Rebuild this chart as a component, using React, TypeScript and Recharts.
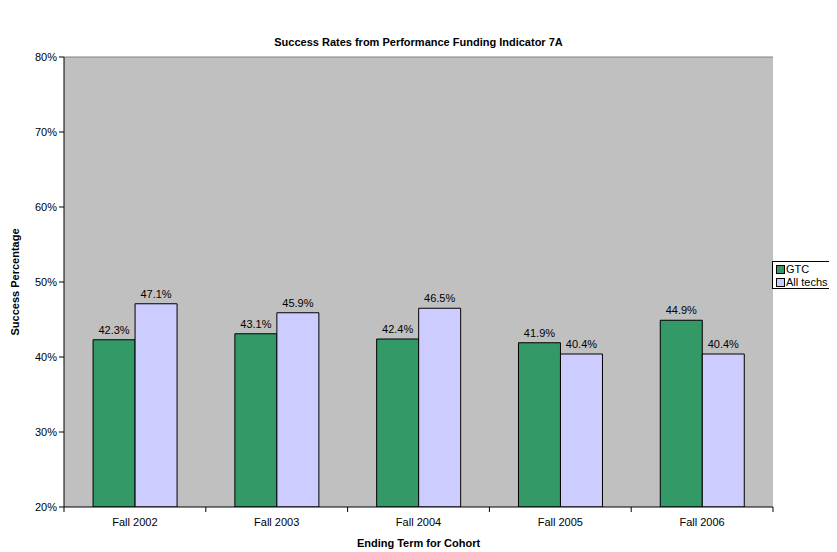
import React from "react";
import { BarChart, Bar, XAxis, YAxis, CartesianGrid, ReferenceLine, LabelList, Label } from "recharts";

const categories = ["Fall 2002", "Fall 2003", "Fall 2004", "Fall 2005", "Fall 2006"];
const gtcValues = [42.3, 43.1, 42.4, 41.9, 44.9];
const allTechsValues = [47.1, 45.9, 46.5, 40.4, 40.4];
const yTicks = [20, 30, 40, 50, 60, 70, 80];

const data = categories.map((c, i) => ({ name: c, gtc: gtcValues[i], all: allTechsValues[i] }));

const FONT = "Arial, 'Liberation Sans', sans-serif";

const CategoryTick = (props: any) => {
  const { x, y, payload, index } = props;
  const half = payload && payload.offset ? payload.offset : 0;
  return (
    <g>
      {index === 0 ? <line x1={x - half} y1={y} x2={x - half} y2={y + 5} stroke="#000" /> : null}
      <line x1={x + half} y1={y} x2={x + half} y2={y + 5} stroke="#000" />
      <text x={x} y={y + 19} textAnchor="middle" fill="#000" fontSize={11} fontFamily={FONT}>
        {payload.value}
      </text>
    </g>
  );
};

const LegendBox = () => (
  <div
    style={{
      position: "absolute",
      left: 772,
      top: 261,
      width: 62,
      height: 28,
      border: "1px solid #000",
      background: "#fff",
      boxSizing: "border-box",
      fontFamily: FONT,
      fontSize: 11,
      padding: "1px 0 0 3px",
      lineHeight: "13px",
    }}
  >
    {[
      { label: "GTC", color: "#339966" },
      { label: "All techs", color: "#CCCCFF" },
    ].map((it) => (
      <div key={it.label} style={{ display: "flex", alignItems: "center", whiteSpace: "nowrap" }}>
        <span
          style={{
            display: "inline-block",
            width: 7,
            height: 7,
            background: it.color,
            border: "1px solid #000",
            marginRight: 1,
          }}
        />
        {it.label}
      </div>
    ))}
  </div>
);

export default function App() {
  return (
    <div style={{ position: "relative", top: -8, left: -8, width: 837, height: 552, background: "#fff", fontFamily: FONT }}>
      <div
        style={{
          position: "absolute",
          top: 36,
          left: 0,
          width: 837,
          textAlign: "center",
          fontWeight: "bold",
          fontSize: 11,
          fontFamily: FONT,
        }}
      >
        Success Rates from Performance Funding Indicator 7A
      </div>
      <BarChart
        width={837}
        height={552}
        data={data}
        margin={{ top: 57, right: 64, bottom: 0, left: 0 }}
        barCategoryGap="20.5%"
        barGap={0}
        style={{ overflow: "visible" }}
      >
        <CartesianGrid fill="#C0C0C0" fillOpacity={1} horizontal={false} vertical={false} />
        <XAxis
          dataKey="name"
          tickLine={false}
          axisLine={{ stroke: "#000" }}
          tick={<CategoryTick />}
          tickMargin={0}
          tickSize={0}
          height={45}
        >
          <Label
            content={(p: any) => {
              const vb = p.viewBox;
              return (
                <text x={vb.x + vb.width / 2} y={vb.y + 40} textAnchor="middle" fontWeight="bold" fontSize={11} fill="#000" fontFamily={FONT}>
                  Ending Term for Cohort
                </text>
              );
            }}
          />
        </XAxis>
        <YAxis
          domain={[20, 80]}
          ticks={yTicks}
          allowDataOverflow
          width={64}
          tickFormatter={(v: number) => v + "%"}
          tick={{ fill: "#000", fontSize: 11, fontFamily: FONT }}
          tickLine={{ stroke: "#000" }}
          tickSize={5}
          axisLine={{ stroke: "#000" }}
        >
          <Label
            content={(p: any) => {
              const vb = p.viewBox;
              const cx = vb.x + 19;
              const cy = vb.y + vb.height / 2;
              return (
                <text x={cx} y={cy} transform={`rotate(-90 ${cx} ${cy})`} textAnchor="middle" fontWeight="bold" fontSize={11} fill="#000" fontFamily={FONT}>
                  Success Percentage
                </text>
              );
            }}
          />
        </YAxis>
        <YAxis
          yAxisId="right"
          orientation="right"
          width={0}
          domain={[20, 80]}
          tick={false}
          tickLine={false}
          axisLine={{ stroke: "#808080" }}
        />
        <ReferenceLine y={80} stroke="#808080" />
        <Bar dataKey="gtc" fill="#339966" stroke="#000" strokeWidth={1} isAnimationActive={false}>
          <LabelList dataKey="gtc" position="top" offset={6} formatter={(v: number) => v.toFixed(1) + "%"} style={{ fill: "#000", fontSize: 11, fontFamily: FONT }} />
        </Bar>
        <Bar dataKey="all" fill="#CCCCFF" stroke="#000" strokeWidth={1} isAnimationActive={false}>
          <LabelList dataKey="all" position="top" offset={6} formatter={(v: number) => v.toFixed(1) + "%"} style={{ fill: "#000", fontSize: 11, fontFamily: FONT }} />
        </Bar>
      </BarChart>
      <LegendBox />
    </div>
  );
}
